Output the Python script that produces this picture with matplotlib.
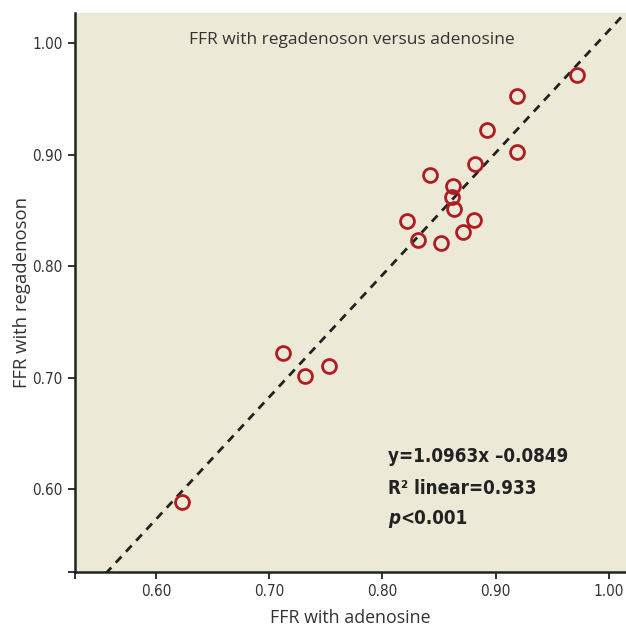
import matplotlib
matplotlib.use('Agg')
import matplotlib.pyplot as plt
import numpy as np

NARROW = 'DejaVu Sans'

adenosine = [0.623, 0.712, 0.732, 0.753, 0.822, 0.831, 0.842, 0.852, 0.862,
             0.861, 0.863, 0.871, 0.881, 0.882, 0.892, 0.919, 0.919, 0.972]
regadenoson = [0.588, 0.722, 0.701, 0.710, 0.840, 0.823, 0.882, 0.821, 0.872,
               0.862, 0.851, 0.831, 0.841, 0.892, 0.922, 0.953, 0.902, 0.971]
slope, intercept = 1.0963, -0.0849
ticks = [0.60, 0.70, 0.80, 0.90, 1.00]
xlim = (0.5285, 1.015)
ylim = (0.5256, 1.027)

BG = '#ece9d6'
RED = '#b01c22'
TXT = '#333333'

fig = plt.figure(figsize=(6.26, 6.28), dpi=100)
ax = fig.add_axes([75 / 626, 56 / 628, 551 / 626, 559 / 628])
ax.set_facecolor(BG)

xs = np.array(xlim)
ax.plot(xs, slope * xs + intercept, '--', color='#222222', lw=2.0, dashes=(3, 2.4))
ax.plot(adenosine, regadenoson, 'o', ms=10, mfc='none', mec=RED, mew=2.0)

ax.set_xlim(*xlim)
ax.set_ylim(*ylim)
ax.set_xticks([xlim[0]] + ticks)
ax.set_xticklabels([''] + [f'{t:.2f}' for t in ticks])
ax.set_yticks([ylim[0]] + ticks)
ax.set_yticklabels([''] + [f'{t:.2f}' for t in ticks])
for lab in ax.get_xticklabels() + ax.get_yticklabels():
    lab.set_fontfamily(NARROW)
    lab.set_fontstretch('condensed')
    lab.set_fontsize(11)
    lab.set_color(TXT)
ax.tick_params(direction='out', length=5, width=1.3, color='#222222', pad=4)

for s in ['top', 'right']:
    ax.spines[s].set_visible(False)
for s in ['left', 'bottom']:
    ax.spines[s].set_linewidth(1.8)
    ax.spines[s].set_color('#222222')

ax.set_xlabel('FFR with adenosine', fontfamily='Open Sans', fontsize=12.8, color=TXT, labelpad=7)
ax.set_ylabel('FFR with regadenoson', fontfamily='Open Sans', fontsize=13.3, color=TXT, labelpad=1)
ax.text(0.503, 0.952, 'FFR with regadenoson versus adenosine', transform=ax.transAxes,
        ha='center', va='center', fontfamily='Open Sans', fontsize=12.5, color=TXT)

kw = dict(ha='left', va='center', fontfamily=NARROW,
          fontstretch='condensed', fontweight='bold', fontsize=13.5, color='#222222')
ax.text(0.568, 0.206, 'y=1.0963x \u20130.0849', transform=ax.transAxes, **kw)
ax.text(0.568, 0.150, 'R\u00b2 linear=0.933', transform=ax.transAxes, **kw)
ptxt = ax.text(0.568, 0.095, 'p', transform=ax.transAxes, style='italic', **kw)
ax.annotate('<0.001', xy=(1, 0.5), xycoords=ptxt, **kw)

fig.savefig('out.png', dpi=100)
